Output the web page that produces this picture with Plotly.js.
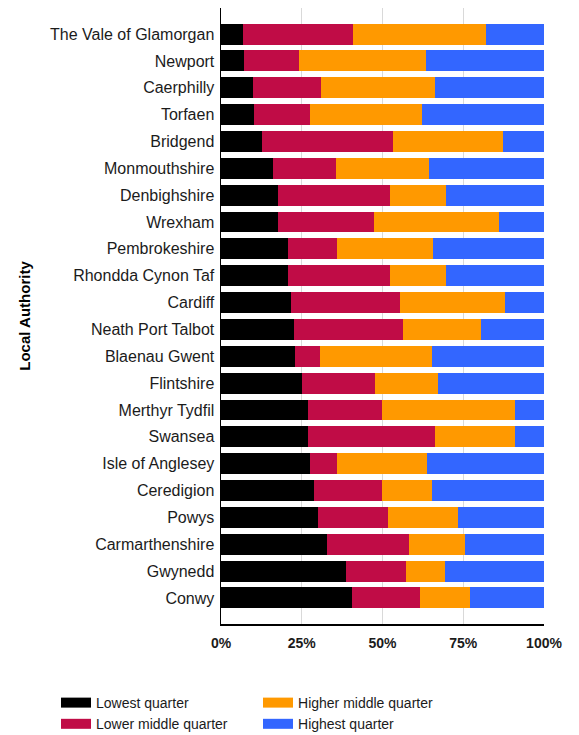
<!DOCTYPE html>
<html>
<head>
<meta charset="utf-8">
<script src="https://cdn.plot.ly/plotly-3.0.1.min.js"></script>
<style>html,body{margin:0;padding:0;background:#fff;}#chart{width:579px;height:735px;}</style>
</head>
<body>
<div id="chart"></div>
<script>
// Categories, top to bottom
var authorities = [
  "The Vale of Glamorgan","Newport","Caerphilly","Torfaen","Bridgend","Monmouthshire",
  "Denbighshire","Wrexham","Pembrokeshire","Rhondda Cynon Taf","Cardiff","Neath Port Talbot",
  "Blaenau Gwent","Flintshire","Merthyr Tydfil","Swansea","Isle of Anglesey","Ceredigion",
  "Powys","Carmarthenshire","Gwynedd","Conwy"
];
// Percent of pupils in each quarter
var lowestQuarter      = [6.7, 7.0, 9.8, 10.1, 12.6, 16.0, 17.6, 17.6, 20.7, 20.7, 21.6, 22.5, 22.8, 25.0, 26.9, 26.9, 27.5, 28.7, 30.0, 32.7, 38.6, 40.5];
var lowerMiddleQuarter = [34.1, 17.1, 21.1, 17.4, 40.6, 19.5, 34.7, 29.7, 15.1, 31.6, 33.8, 33.8, 7.8, 22.6, 22.9, 39.3, 8.3, 21.1, 21.7, 25.5, 18.6, 21.1];
var higherMiddleQuarter= [41.2, 39.3, 35.3, 34.7, 34.1, 28.9, 17.3, 38.8, 29.8, 17.3, 32.5, 24.2, 34.7, 19.5, 41.2, 24.8, 27.9, 15.5, 21.6, 17.3, 12.1, 15.5];
var highestQuarter     = [18.0, 36.6, 33.8, 37.8, 12.7, 35.6, 30.4, 13.9, 34.4, 30.4, 12.1, 19.5, 34.7, 32.9, 9.0, 9.0, 36.3, 34.7, 26.7, 24.5, 30.7, 22.9];
var seriesNames  = ["Lowest quarter","Lower middle quarter","Higher middle quarter","Highest quarter"];
var seriesColors = ["#000000","#C00C46","#FF9900","#3366FF"];
var xTickVals  = [0, 25, 50, 75, 100];
var xTickText  = ["0%","25%","50%","75%","100%"];

var seriesValues = [lowestQuarter, lowerMiddleQuarter, higherMiddleQuarter, highestQuarter];
var legendIds = ["legend","legend","legend2","legend2"];

var traces = [];
seriesValues.forEach(function(vals, i){
  traces.push({
    type: "bar", orientation: "h",
    x: vals, y: authorities,
    name: seriesNames[i],
    marker: {color: seriesColors[i], line: {width: 0}},
    showlegend: false,
    hovertemplate: "%{y}: %{x:.1f}%<extra>" + seriesNames[i] + "</extra>"
  });
});
// legend-only entries (wide swatches)
seriesValues.forEach(function(vals, i){
  traces.push({
    type: "scatter", mode: "lines",
    x: [null], y: [null],
    name: seriesNames[i],
    line: {color: seriesColors[i], width: 12},
    legend: legendIds[i],
    showlegend: true,
    hoverinfo: "skip"
  });
});

var font = "Arial, 'Liberation Sans', sans-serif";
var legendCommon = {
  xanchor: "left", yanchor: "top",
  orientation: "v", bgcolor: "rgba(0,0,0,0)", traceorder: "normal",
  font: {family: font, size: 14, color: "#1b1b1b"},
  itemwidth: 30, tracegroupgap: 0
};
var layout = {
  width: 579, height: 735,
  margin: {l: 221, r: 35, t: 8, b: 111, autoexpand: false},
  paper_bgcolor: "#ffffff", plot_bgcolor: "#ffffff",
  barmode: "stack", bargap: 0.22,
  font: {family: font, color: "#1b1b1b"},
  xaxis: {
    range: [0, 100], tickvals: xTickVals, ticktext: xTickText,
    showgrid: true, gridcolor: "#d9d9d9", gridwidth: 1,
    zeroline: false, showline: true, linecolor: "#000000", linewidth: 2,
    ticks: "", ticklabelstandoff: 5,
    tickfont: {family: font, size: 14, color: "#1b1b1b", weight: "bold"},
    fixedrange: true
  },
  xaxis2: {
    overlaying: "x", anchor: "y", side: "bottom", range: [0, 100],
    tickvals: [0, 100], ticks: "outside", ticklen: 7, tickwidth: 1.5, tickcolor: "#000000",
    showticklabels: false, showgrid: false, zeroline: false, showline: false
  },
  yaxis: {
    type: "category", categoryorder: "array", categoryarray: authorities,
    range: [21.97, -0.97],
    showgrid: false, zeroline: false, showline: true, linecolor: "#000000", linewidth: 1.5,
    ticks: "", ticklabelstandoff: 2,
    tickfont: {family: font, size: 16, color: "#1b1b1b"},
    title: {text: "Local Authority", standoff: 16, font: {family: font, size: 15, color: "#000000", weight: "bold"}},
    fixedrange: true
  },
  legend: Object.assign({}, legendCommon, {x: -0.5108, y: -0.1023}),
  legend2: Object.assign({}, legendCommon, {x: 0.1146, y: -0.1023}),
  showlegend: true
};

Plotly.newPlot("chart", traces, layout, {displayModeBar: false, staticPlot: true});
</script>
</body>
</html>
